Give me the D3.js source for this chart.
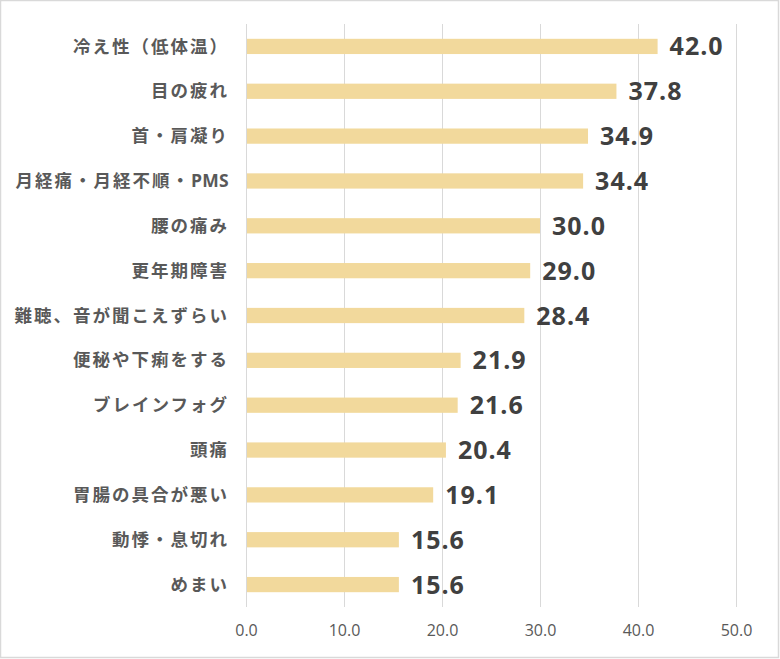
<!DOCTYPE html>
<html>
<head>
<meta charset="utf-8">
<script src="https://cdn.jsdelivr.net/npm/d3@7"></script>
<style>
  body { margin: 0; background: #fff; }
  svg { display: block; }
</style>
</head>
<body>
<svg width="780" height="659"></svg>
<script>
(function() {
    var categories = ["冷え性（低体温）", "目の疲れ", "首・肩凝り", "月経痛・月経不順・PMS", "腰の痛み", "更年期障害",
        "難聴、音が聞こえずらい", "便秘や下痢をする", "ブレインフォグ", "頭痛", "胃腸の具合が悪い", "動悸・息切れ", "めまい"];
    var values = [42.0, 37.8, 34.9, 34.4, 30.0, 29.0, 28.4, 21.9, 21.6, 20.4, 19.1, 15.6, 15.6];
    var ticks = [0, 10, 20, 30, 40, 50];

    var data = categories.map(function(c, i) {
        return { name: c, value: values[i] };
    });

    var svg = d3.select("svg");
    var margin = { top: 24, right: 44, bottom: 52, left: 246 };
    var width = 780 - margin.left - margin.right;
    var height = 659 - margin.top - margin.bottom;

    // outer border
    svg.append("rect")
        .attr("x", 0.5).attr("y", 0.5)
        .attr("width", 778).attr("height", 657)
        .attr("fill", "#fff")
        .attr("stroke", "#d9d9d9")
        .attr("stroke-width", 1.5);

    var g = svg.append("g").attr("transform", "translate(" + margin.left + "," + margin.top + ")");

    var x = d3.scaleLinear().domain([0, 50]).range([0, width]);
    var y = d3.scaleBand().domain(categories).range([0, height]).paddingInner(0.66).paddingOuter(0.33);

    //Grid lines
    g.append("g")
        .selectAll("line")
        .data(ticks)
        .enter().append("line")
        .attr("x1", function(d) { return Math.round(x(d)) + 0.5; })
        .attr("x2", function(d) { return Math.round(x(d)) + 0.5; })
        .attr("y1", 0)
        .attr("y2", height)
        .attr("stroke", "#d9d9d9")
        .attr("stroke-width", 1);

    //X Axis labels
    var xAxis = g.append("g")
        .attr("transform", "translate(0," + height + ")")
        .call(d3.axisBottom(x).tickValues(ticks).tickSize(0).tickPadding(18).tickFormat(d3.format(".1f")));
    xAxis.select(".domain").remove();
    xAxis.selectAll("text")
        .attr("fill", "#595959")
        .style("font-family", "'Open Sans', 'Noto Sans', sans-serif")
        .style("font-size", "16px");

    //Y Axis labels
    var yAxis = g.append("g")
        .call(d3.axisLeft(y).tickSize(0).tickPadding(17));
    yAxis.select(".domain").remove();
    yAxis.selectAll("text")
        .attr("fill", "#595959")
        .attr("dy", "0.35em")
        .style("font-family", "'Open Sans', 'Noto Sans CJK JP', sans-serif")
        .style("font-weight", "bold")
        .style("font-size", "17.5px")
        .style("letter-spacing", "2px")
        .each(function(d) {
            // latin tail (PMS) is set tighter
            var m = d.match(/^(.*?)([A-Za-z]+)$/);
            if (!m) return;
            var t = d3.select(this).text(null);
            t.append("tspan").text(m[1]);
            t.append("tspan").style("letter-spacing", "0.3px").text(m[2]);
        });

    //Bars
    g.selectAll(".bar")
        .data(data)
        .enter().append("rect")
        .attr("class", "bar")
        .attr("x", x(0) + 1)
        .attr("y", function(d) { return y(d.name); })
        .attr("width", function(d) { return x(d.value) - x(0) - 1; })
        .attr("height", y.bandwidth())
        .attr("fill", "#f2d99c");

    //Value labels
    g.selectAll(".val")
        .data(data)
        .enter().append("text")
        .attr("class", "val")
        .attr("x", function(d) { return x(d.value) + 12; })
        .attr("y", function(d) { return y(d.name) + y.bandwidth() / 2; })
        .attr("dy", "0.36em")
        .attr("fill", "#404040")
        .style("font-family", "'Open Sans', 'Noto Sans', sans-serif")
        .style("font-weight", "bold")
        .style("font-size", "25px")
        .style("letter-spacing", "1px")
        .text(function(d) { return d.value.toFixed(1); });
})();
</script>
</body>
</html>
